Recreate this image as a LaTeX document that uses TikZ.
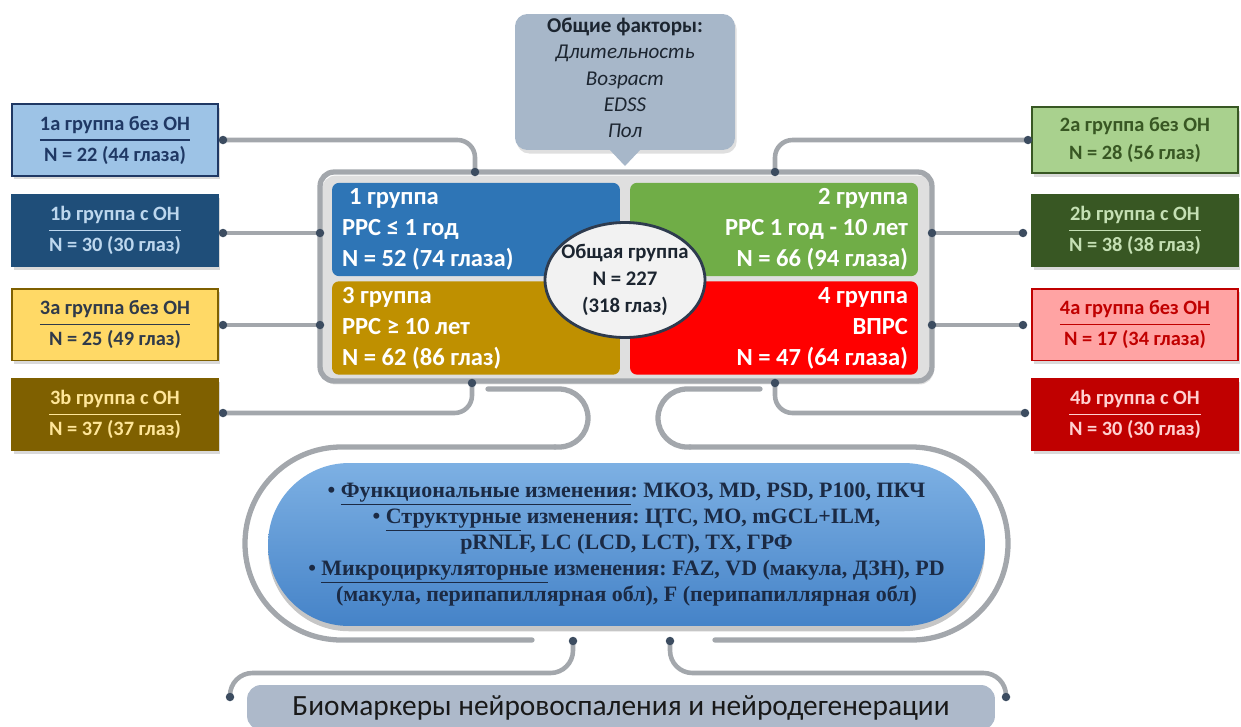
\documentclass[tikz,border=0pt]{standalone}
\usepackage{fontspec}
\setmainfont{Carlito}
\newfontfamily\timesbold{Liberation Serif}
\usetikzlibrary{shapes.geometric,shadows}
\frenchspacing
\definecolor{linkgray}{HTML}{A3A7AC}
\definecolor{dotnavy}{HTML}{3C4C60}
\definecolor{topgray}{HTML}{A7B7C9}
\definecolor{toptext}{HTML}{1C2530}
\definecolor{q1blue}{HTML}{2E75B6}
\definecolor{q2green}{HTML}{70AD47}
\definecolor{q3gold}{HTML}{BF9000}
\definecolor{q4red}{HTML}{FF0000}
\definecolor{c1a}{HTML}{9DC3E6}
\definecolor{c1atext}{HTML}{1F3864}
\definecolor{c1b}{HTML}{1F4E79}
\definecolor{c1btext}{HTML}{BDD7EE}
\definecolor{c3a}{HTML}{FFD966}
\definecolor{c3atext}{HTML}{2F3A4A}
\definecolor{c3aline}{HTML}{7F6000}
\definecolor{c3b}{HTML}{7F6000}
\definecolor{c3btext}{HTML}{FFE699}
\definecolor{c2a}{HTML}{A9D18E}
\definecolor{c2atext}{HTML}{385723}
\definecolor{c2b}{HTML}{385723}
\definecolor{c2btext}{HTML}{C5E0B4}
\definecolor{c4a}{HTML}{FFA3A3}
\definecolor{c4atext}{HTML}{C00000}
\definecolor{c4b}{HTML}{C00000}
\definecolor{c4btext}{HTML}{FFD0D0}
\definecolor{ellfill}{HTML}{F2F2F2}
\definecolor{elldraw}{HTML}{2E3B4E}
\definecolor{stadtop}{HTML}{7DB0E3}
\definecolor{stadbottom}{HTML}{4583C8}
\definecolor{stadtext}{HTML}{1B2A44}
\definecolor{bargray}{HTML}{ADB9CA}
\newcommand{\splitlabel}[2]{\setlength{\arrayrulewidth}{0.8pt}\renewcommand{\arraystretch}{1.08}%
  \begin{tabular}{@{}c@{}}#1\\\hline #2\end{tabular}}
\tikzset{
  sub/.style={draw, line width=1.1pt, minimum width=4.12cm, minimum height=1.32cm, align=center,
    font=\bfseries\fontsize{11.6}{15.5}\selectfont,
    drop shadow={opacity=0.3, shadow xshift=1pt, shadow yshift=-2pt}},
  quad/.style={rounded corners=4pt, minimum width=5.76cm, minimum height=1.82cm, text width=5.36cm,
    text=white, font=\bfseries\fontsize{14}{17.6}\selectfont},
  link/.style={draw=linkgray, line width=2.6pt, line cap=round},
  outline/.style={draw=linkgray, line width=3pt, line cap=round},
  dot/.style={circle, fill=dotnavy, inner sep=0pt, minimum size=0.17cm}
}
\begin{document}
\begin{tikzpicture}[x=0.02cm, y=-0.02cm]
\useasboundingbox (0,0) rectangle (1241,727);
\clip (0,0) rectangle (1241,727);
\node[draw=linkgray, line width=3pt, rounded corners=8pt, minimum width=12.24cm, minimum height=4.18cm,
  drop shadow={opacity=0.25, shadow xshift=1pt, shadow yshift=-2pt}] (frame) at (626,276.5) {};
\node[quad, fill=q1blue, align=flush left] (g1) at (476,229.5) {\hspace{4pt}1 группа\\РРС ≤ 1 год\\N = 52 (74 глаза)};
\node[quad, fill=q2green, align=flush right] (g2) at (774,229.5) {2 группа\\РРС 1 год - 10 лет\\N = 66 (94 глаза)};
\node[quad, fill=q3gold, align=flush left] (g3) at (476,328) {3 группа\\РРС ≥ 10 лет\\N = 62 (86 глаз)};
\node[quad, fill=q4red, align=flush right] (g4) at (774,328) {4 группа\\ВПРС\\N = 47 (64 глаза)};
\node[ellipse, draw=elldraw, line width=1.6pt, fill=ellfill, minimum width=3.2cm, minimum height=2.3cm,
  inner sep=-6pt, align=center, text=toptext, font=\bfseries\fontsize{11.8}{15.3}\selectfont] (total) at (625,280)
  {Общая группа\\N = 227\\(318 глаз)};
\node[fill=topgray, rounded corners=7pt, minimum width=4.4cm, minimum height=2.72cm,
  drop shadow={opacity=0.25, shadow xshift=1pt, shadow yshift=-2pt}] (factorsbox) at (625,82) {};
\fill[topgray] (608,148) -- (625,166) -- (642,148) -- cycle;
\node[align=center, text=toptext, font=\fontsize{12}{15}\selectfont] (factors) at (625,78)
  {\textbf{Общие факторы:}\\\textit{Длительность}\\\textit{Возраст}\\\textit{EDSS}\\\textit{Пол}};
\node[sub, fill=c1a, draw=c1atext, text=c1atext] (g1a) at (115,140) {\splitlabel{1a группа без ОН}{N = 22 (44 глаза)}};
\node[sub, fill=c1b, draw=c1b, text=c1btext] (g1b) at (115,230.5) {\splitlabel{1b группа с ОН}{N = 30 (30 глаз)}};
\node[sub, fill=c3a, draw=c3aline, text=c3atext] (g3a) at (115,324.5) {\splitlabel{3a группа без ОН}{N = 25 (49 глаз)}};
\node[sub, fill=c3b, draw=c3aline, text=c3btext] (g3b) at (115,414.5) {\splitlabel{3b группа с ОН}{N = 37 (37 глаз)}};
\node[sub, fill=c2a, draw=c2atext, text=c2atext] (g2a) at (1135,140) {2a группа без ОН\\N = 28 (56 глаз)};
\node[sub, fill=c2b, draw=c2b, text=c2btext] (g2b) at (1135,230.5) {\splitlabel{2b группа с ОН}{N = 38 (38 глаз)}};
\node[sub, fill=c4a, draw=c4atext, text=c4atext] (g4a) at (1135,324.5) {\splitlabel{4a группа без ОН}{N = 17 (34 глаза)}};
\node[sub, fill=c4b, draw=c4b, text=c4btext] (g4b) at (1135,414.5) {\splitlabel{4b группа с ОН}{N = 30 (30 глаз)}};
\coordinate (d1a) at (223,140);
\coordinate (d1b) at (223,233);
\coordinate (d3a) at (223,325);
\coordinate (d3b) at (223,413);
\coordinate (d2a) at (1028,140);
\coordinate (d2b) at (1023,233);
\coordinate (d4a) at (1023,325);
\coordinate (d4b) at (1025,413);
\coordinate (f1a) at (475,172);
\coordinate (f2a) at (775,172);
\coordinate (f1b) at (320,233);
\coordinate (f3a) at (320,325);
\coordinate (f2b) at (932,233);
\coordinate (f4a) at (932,325);
\coordinate (f3b) at (472,383);
\coordinate (f4b) at (775,383);
\draw[link, rounded corners=0.35cm] (d1a) -| (f1a);
\draw[link] (d1b) -- (f1b);
\draw[link] (d3a) -- (f3a);
\draw[link, rounded corners=0.35cm] (d3b) -| (f3b);
\draw[link, rounded corners=0.35cm] (d2a) -| (f2a);
\draw[link] (f2b) -- (d2b);
\draw[link] (f4a) -- (d4a);
\draw[link, rounded corners=0.35cm] (f4b) |- (d4b);
\draw[outline, rounded corners=0.58cm] (488,389) -- (588,389) -- (588,447) -- (555,447);
\draw[outline, rounded corners=1.93cm] (555,447) -- (245,447) -- (245,640) -- (532,640);
\draw[outline, rounded corners=0.58cm] (760,389) -- (658,389) -- (658,447) -- (690,447);
\draw[outline, rounded corners=1.93cm] (690,447) -- (1008,447) -- (1008,640) -- (715,640);
\node[rounded corners=1.62cm, minimum width=14.34cm, minimum height=3.26cm, top color=stadtop, bottom color=stadbottom,
  align=center, text=stadtext, font=\timesbold\bfseries\fontsize{12.5}{14.9}\selectfont,
  drop shadow={opacity=0.45, shadow xshift=0pt, shadow yshift=-3pt}] (changes) at (626.5,544.5)
  {• \underline{Функциональные изменения}: МКОЗ, MD, PSD, P100, ПКЧ\\
   • \underline{Структурные} изменения: ЦТС, МО, mGCL+ILM,\\
   pRNLF, LC (LCD, LCT), ТХ, ГРФ\\
   • \underline{Микроциркуляторные} изменения: FAZ, VD (макула, ДЗН), PD\\
   (макула, перипапиллярная обл), F (перипапиллярная обл)};
\node[fill=bargray, rounded corners=8pt, minimum width=14.96cm, minimum height=0.9cm,
  font=\fontsize{16.7}{20}\selectfont, text=black!90] (biomark) at (621,707.5)
  {Биомаркеры нейровоспаления и нейродегенерации};
\coordinate (b1) at (573,641);
\coordinate (b2) at (670,641);
\coordinate (b0) at (230,697);
\coordinate (b3) at (1006,697);
\draw[link, rounded corners=0.45cm] (b1) |- (230,673) -- (b0);
\draw[link, rounded corners=0.45cm] (b2) |- (1006,673) -- (b3);
\foreach \p in {d1a,d1b,d3a,d3b,d2a,d2b,d4a,d4b,f1a,f2a,f1b,f3a,f2b,f4a,f3b,f4b,b0,b1,b2,b3}
  \node[dot] at (\p) {};
\end{tikzpicture}
\end{document}
